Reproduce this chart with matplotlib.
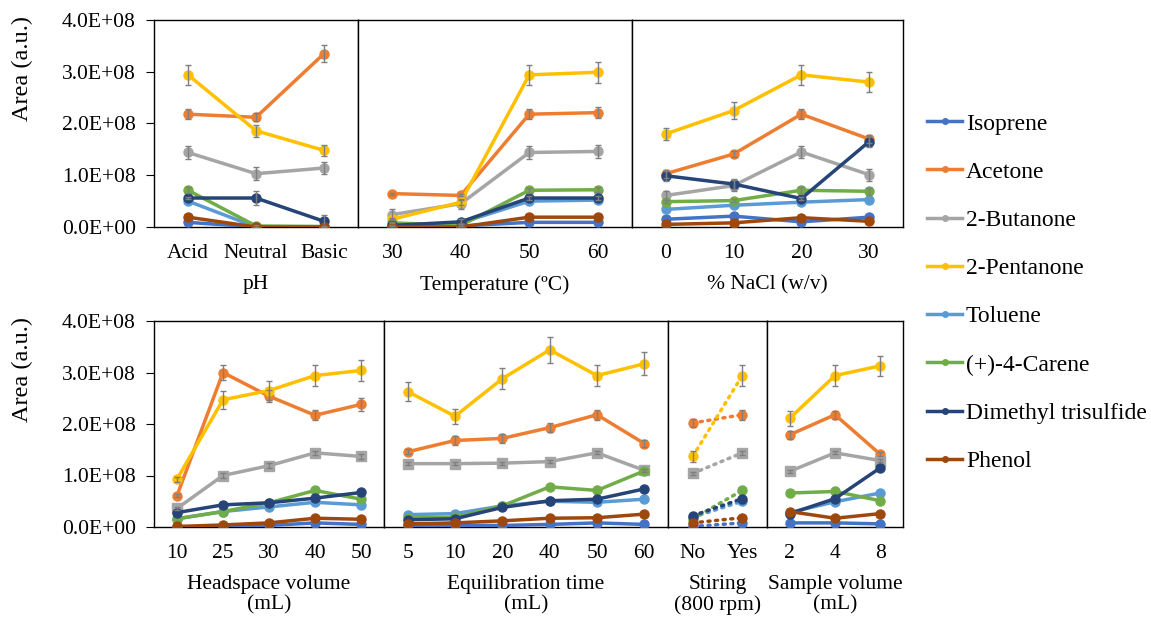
import matplotlib
matplotlib.use('Agg')
import matplotlib.pyplot as plt
from matplotlib.lines import Line2D
from matplotlib.ticker import FuncFormatter, MultipleLocator

plt.rcParams['font.family'] = ['Liberation Serif', 'DejaVu Serif']

# values are in 1E+08 a.u.
SCALE = 1e8

compounds = ['Isoprene', 'Acetone', '2-Butanone', '2-Pentanone', 'Toluene',
             '(+)-4-Carene', 'Dimethyl trisulfide', 'Phenol']
colors = ['#4472C4', '#ED7D31', '#A5A5A5', '#FFC000', '#5B9BD5',
          '#70AD47', '#264478', '#9E480E']

# --- pH ---
ph_cats = ['Acid', 'Neutral', 'Basic']
ph_vals = {
    'Isoprene': [0.09, 0.0, 0.0],
    'Acetone': [2.18, 2.12, 3.35],
    '2-Butanone': [1.44, 1.03, 1.14],
    '2-Pentanone': [2.94, 1.86, 1.48],
    'Toluene': [0.50, 0.0, 0.0],
    '(+)-4-Carene': [0.71, 0.02, 0.01],
    'Dimethyl trisulfide': [0.56, 0.56, 0.11],
    'Phenol': [0.19, 0.0, 0.0],
}
ph_err = {
    'Acetone': [0.10, 0.08, 0.17],
    '2-Butanone': [0.12, 0.12, 0.12],
    '2-Pentanone': [0.20, 0.12, 0.11],
    '(+)-4-Carene': [0.06, 0.02, 0.01],
    'Dimethyl trisulfide': [0.02, 0.13, 0.13],
}

# --- Temperature ---
temp_cats = ['30', '40', '50', '60']
temp_vals = {
    'Isoprene': [0.0, 0.02, 0.09, 0.09],
    'Acetone': [0.645, 0.61, 2.18, 2.21],
    '2-Butanone': [0.24, 0.45, 1.44, 1.46],
    '2-Pentanone': [0.15, 0.48, 2.94, 2.99],
    'Toluene': [0.02, 0.08, 0.50, 0.52],
    '(+)-4-Carene': [0.08, 0.03, 0.71, 0.72],
    'Dimethyl trisulfide': [0.03, 0.10, 0.56, 0.56],
    'Phenol': [0.0, 0.0, 0.19, 0.19],
}
temp_err = {
    'Acetone': [0.02, 0.02, 0.10, 0.10],
    '2-Butanone': [0.10, 0.10, 0.12, 0.12],
    '2-Pentanone': [0.02, 0.05, 0.20, 0.20],
    '(+)-4-Carene': [0.01, 0.02, 0.05, 0.05],
    'Dimethyl trisulfide': [0.01, 0.05, 0.03, 0.03],
}

# --- NaCl ---
nacl_cats = ['0', '10', '20', '30']
nacl_vals = {
    'Isoprene': [0.15, 0.21, 0.10, 0.19],
    'Acetone': [1.03, 1.41, 2.18, 1.70],
    '2-Butanone': [0.61, 0.80, 1.45, 1.01],
    '2-Pentanone': [1.80, 2.25, 2.94, 2.80],
    'Toluene': [0.34, 0.42, 0.48, 0.53],
    '(+)-4-Carene': [0.49, 0.51, 0.71, 0.69],
    'Dimethyl trisulfide': [0.99, 0.83, 0.55, 1.65],
    'Phenol': [0.05, 0.08, 0.18, 0.11],
}
nacl_err = {
    'Acetone': [0.08, 0.05, 0.10, 0.08],
    '2-Butanone': [0.08, 0.10, 0.12, 0.12],
    '2-Pentanone': [0.12, 0.16, 0.20, 0.19],
    '(+)-4-Carene': [0.03, 0.03, 0.07, 0.07],
    'Dimethyl trisulfide': [0.10, 0.10, 0.03, 0.10],
}

# --- Headspace volume ---
head_cats = ['10', '25', '30', '40', '50']
head_vals = {
    'Isoprene': [0.0, 0.02, 0.03, 0.08, 0.05],
    'Acetone': [0.61, 3.00, 2.54, 2.17, 2.38],
    '2-Butanone': [0.36, 1.00, 1.19, 1.44, 1.37],
    '2-Pentanone': [0.93, 2.47, 2.65, 2.94, 3.04],
    'Toluene': [0.16, 0.30, 0.39, 0.48, 0.43],
    '(+)-4-Carene': [0.16, 0.30, 0.47, 0.71, 0.54],
    'Dimethyl trisulfide': [0.28, 0.43, 0.47, 0.56, 0.67],
    'Phenol': [0.01, 0.04, 0.08, 0.17, 0.15],
}
head_err = {
    'Acetone': [0.03, 0.15, 0.12, 0.10, 0.12],
    '2-Butanone': [0.03, 0.04, 0.05, 0.04, 0.04],
    '2-Pentanone': [0.05, 0.17, 0.19, 0.20, 0.20],
}

# --- Equilibration time ---
equil_cats = ['5', '10', '20', '40', '50', '60']
equil_vals = {
    'Isoprene': [0.03, 0.03, 0.03, 0.05, 0.08, 0.05],
    'Acetone': [1.46, 1.68, 1.72, 1.93, 2.18, 1.62],
    '2-Butanone': [1.23, 1.23, 1.24, 1.27, 1.44, 1.10],
    '2-Pentanone': [2.63, 2.15, 2.88, 3.44, 2.94, 3.17],
    'Toluene': [0.24, 0.26, 0.41, 0.50, 0.48, 0.54],
    '(+)-4-Carene': [0.18, 0.19, 0.41, 0.78, 0.71, 1.09],
    'Dimethyl trisulfide': [0.14, 0.16, 0.38, 0.51, 0.54, 0.74],
    'Phenol': [0.06, 0.08, 0.12, 0.17, 0.18, 0.25],
}
equil_err = {
    'Acetone': [0.05, 0.08, 0.08, 0.08, 0.10, 0.07],
    '2-Butanone': [0.03, 0.03, 0.03, 0.03, 0.03, 0.03],
    '2-Pentanone': [0.18, 0.15, 0.20, 0.25, 0.20, 0.22],
}

# --- Stirring ---
stir_cats = ['No', 'Yes']
stir_vals = {
    'Isoprene': [0.01, 0.08],
    'Acetone': [2.02, 2.18],
    '2-Butanone': [1.04, 1.44],
    '2-Pentanone': [1.37, 2.94],
    'Toluene': [0.19, 0.50],
    '(+)-4-Carene': [0.16, 0.71],
    'Dimethyl trisulfide': [0.22, 0.55],
    'Phenol': [0.08, 0.18],
}
stir_err = {
    'Acetone': [0.08, 0.10],
    '2-Butanone': [0.03, 0.04],
    '2-Pentanone': [0.10, 0.20],
}

# --- Sample volume ---
samp_cats = ['2', '4', '8']
samp_vals = {
    'Isoprene': [0.08, 0.08, 0.06],
    'Acetone': [1.79, 2.18, 1.41],
    '2-Butanone': [1.08, 1.44, 1.29],
    '2-Pentanone': [2.11, 2.94, 3.13],
    'Toluene': [0.28, 0.49, 0.66],
    '(+)-4-Carene': [0.66, 0.69, 0.51],
    'Dimethyl trisulfide': [0.26, 0.55, 1.15],
    'Phenol': [0.30, 0.17, 0.26],
}
samp_err = {
    'Acetone': [0.08, 0.08, 0.04],
    '2-Butanone': [0.03, 0.03, 0.03],
    '2-Pentanone': [0.15, 0.20, 0.20],
}

W, H = 1151, 617
fig = plt.figure(figsize=(W / 100, H / 100), dpi=100)

# panel boxes in pixels: left, right, top, bottom
panels = [
    (ph_cats, ph_vals, ph_err, 'pH', (154, 358, 20, 227), False, False),
    (temp_cats, temp_vals, temp_err, 'Temperature (ºC)', (358, 632, 20, 227), False, False),
    (nacl_cats, nacl_vals, nacl_err, '% NaCl (w/v)', (632, 903, 20, 227), False, False),
    (head_cats, head_vals, head_err, 'Headspace volume\n(mL)', (154, 384, 321, 527), False, True),
    (equil_cats, equil_vals, equil_err, 'Equilibration time\n(mL)', (384, 668, 321, 527), False, True),
    (stir_cats, stir_vals, stir_err, 'Stiring\n(800 rpm)', (668, 767, 321, 527), True, True),
    (samp_cats, samp_vals, samp_err, 'Sample volume\n(mL)', (767, 903, 321, 527), False, True),
]

fmt = FuncFormatter(lambda v, p: f'{v:.1E}')
FS = 15.5

for cats, vals, errs, xlabel, (l, r, t, b), dotted, bottom_row in panels:
    ax = fig.add_axes([l / W, 1 - b / H, (r - l) / W, (b - t) / H])
    x = list(range(len(cats)))
    for name, col in zip(compounds, colors):
        y = [v * SCALE for v in vals[name]]
        e = errs.get(name)
        marker = 's' if (bottom_row and name == '2-Butanone') else 'o'
        if dotted:
            ax.plot(x, y, color=col, lw=2.5, linestyle=(0, (0.6, 1.6)),
                    dash_capstyle='round', marker=marker, ms=6.5, zorder=3)
        else:
            ax.plot(x, y, color=col, lw=2.5, marker=marker, ms=6.5, zorder=3)
        if e is not None:
            ax.errorbar(x, y, yerr=[v * SCALE for v in e], fmt='none',
                        ecolor='#7F7F7F', elinewidth=1, capsize=2.5,
                        capthick=1, zorder=4)
    ax.set_xlim(-0.5, len(cats) - 0.5)
    ax.set_ylim(0, 4e8)
    ax.set_xticks(x)
    ax.set_xticklabels(cats, fontsize=FS)
    ax.tick_params(axis='x', length=0, pad=12)
    ax.yaxis.set_major_locator(MultipleLocator(1e8))
    for s in ax.spines.values():
        s.set_color('black')
        s.set_linewidth(1)
    if l == 154:
        ax.yaxis.set_major_formatter(fmt)
        ax.tick_params(axis='y', direction='out', length=6, labelsize=FS, pad=7)
        fig.text(22 / W, 1 - (t - 4) / H, 'Area (a.u.)', rotation=90,
                 ha='center', va='top', fontsize=17.5)
    else:
        ax.tick_params(axis='y', length=0, labelleft=False)
    ax.set_xlabel(xlabel, fontsize=FS, labelpad=9, linespacing=1.1)

handles = [Line2D([0], [0], color=c, lw=2.5, marker='o', ms=4) for c in colors]
fig.legend(handles, compounds, loc='upper left',
           bbox_to_anchor=(927 / W, 1 - 113 / H), frameon=False,
           fontsize=17, handlelength=1.5, handletextpad=0.15,
           labelspacing=1.13, borderpad=0, borderaxespad=0)

fig.savefig('out.png', dpi=100)
